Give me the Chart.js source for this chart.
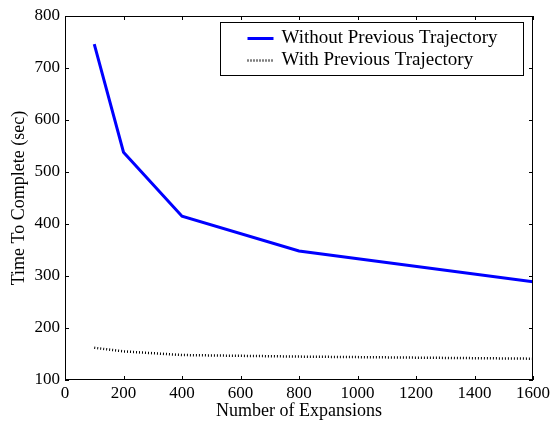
<!DOCTYPE html>
<html>
<head>
<meta charset="utf-8">
<script src="https://cdn.jsdelivr.net/npm/chart.js@4/dist/chart.umd.min.js"></script>
<style>
  html, body { margin:0; padding:0; background:#fff; }
  #wrap { width:550px; height:422px; }
</style>
</head>
<body>
<div id="wrap"><canvas id="c"></canvas></div>
<script>
/* ===== DATA ===== */
const expansions = [100, 200, 400, 800, 1600];
const withoutPrev = [746, 538, 415, 348, 289];
const withPrev = [162, 155, 148, 145, 141];
const seriesNames = ["Without Previous Trajectory", "With Previous Trajectory"];

const FONT = "'Liberation Serif', 'DejaVu Serif', serif";

// frame + inward ticks on all four sides, matplotlib style
const framePlugin = {
  id: "frame",
  afterDatasetsDraw(chart) {
    const {ctx, chartArea: a, scales} = chart;
    ctx.save();
    ctx.strokeStyle = "#000";
    ctx.lineWidth = 1;
    ctx.strokeRect(a.left + 0.5, a.top + 0.5, a.right - a.left - 1, a.bottom - a.top - 1);
    const len = 4;
    ctx.beginPath();
    scales.x.ticks.forEach(t => {
      const px = Math.round(scales.x.getPixelForValue(t.value)) + 0.5;
      ctx.moveTo(px, a.bottom); ctx.lineTo(px, a.bottom - len);
      ctx.moveTo(px, a.top); ctx.lineTo(px, a.top + len);
    });
    scales.y.ticks.forEach(t => {
      const py = Math.round(scales.y.getPixelForValue(t.value)) + 0.5;
      ctx.moveTo(a.left, py); ctx.lineTo(a.left + len, py);
      ctx.moveTo(a.right, py); ctx.lineTo(a.right - len, py);
    });
    ctx.stroke();

    // legend box
    const bx = 220.5, by = 22.5, bw = 303, bh = 53;
    ctx.fillStyle = "#fff";
    ctx.fillRect(bx, by, bw, bh);
    ctx.strokeRect(bx, by, bw, bh);
    ctx.font = "19px " + FONT;
    ctx.fillStyle = "#000";
    ctx.textBaseline = "middle";
    const rows = [by + 16, by + 38];
    chart.data.datasets.forEach((ds, i) => {
      ctx.save();
      ctx.strokeStyle = ds.borderColor;
      ctx.lineWidth = ds.borderWidth;
      ctx.setLineDash(ds.borderDash || []);
      ctx.beginPath();
      ctx.moveTo(bx + 27, rows[i]);
      ctx.lineTo(bx + 53, rows[i]);
      ctx.stroke();
      ctx.restore();
      ctx.fillText(ds.label, bx + 61, rows[i]);
    });
    ctx.restore();
  }
};

new Chart(document.getElementById("c"), {
  type: "line",
  data: {
    datasets: [
      {
        label: seriesNames[0],
        data: expansions.map((x, i) => ({x, y: withoutPrev[i]})),
        borderColor: "#0000ff",
        borderWidth: 3,
        pointRadius: 0,
        tension: 0,
        fill: false
      },
      {
        label: seriesNames[1],
        data: expansions.map((x, i) => ({x, y: withPrev[i]})),
        borderColor: "#000000",
        borderWidth: 2.5,
        borderDash: [1, 2],
        pointRadius: 0,
        tension: 0,
        fill: false
      }
    ]
  },
  options: {
    responsive: true,
    maintainAspectRatio: false,
    animation: false,
    layout: { padding: { top: 16, right: 0, left: 0, bottom: 0 } },
    plugins: { legend: { display: false }, tooltip: { enabled: false } },
    scales: {
      x: {
        type: "linear",
        min: 0, max: 1600,
        ticks: { stepSize: 200, color: "#000", font: { family: FONT, size: 17 }, padding: 3, maxRotation: 0,
                 callback: v => String(v) },
        grid: { display: false, drawTicks: false },
        border: { display: false },
        title: { display: true, text: "Number of Expansions", color: "#000", font: { family: FONT, size: 18 }, padding: { top: 0, bottom: 0 } },
        afterFit(s) { s.height = 42; s.paddingRight = 17; }
      },
      y: {
        min: 100, max: 800,
        ticks: { stepSize: 100, color: "#000", font: { family: FONT, size: 17 }, padding: 5 },
        grid: { display: false, drawTicks: false },
        border: { display: false },
        title: { display: true, text: "Time To Complete (sec)", color: "#000", font: { family: FONT, size: 18 }, padding: { top: 8, bottom: 0 } },
        afterFit(s) { s.width = 65; }
      }
    }
  },
  plugins: [framePlugin]
});
</script>
</body>
</html>
